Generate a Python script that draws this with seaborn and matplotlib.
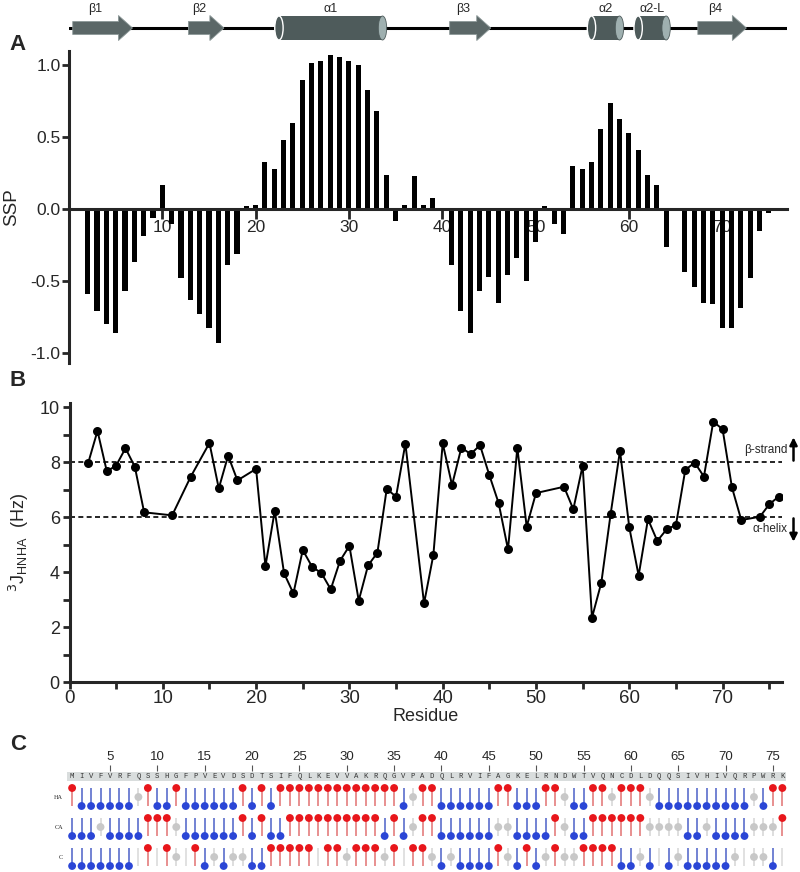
import matplotlib
matplotlib.use("Agg")
import matplotlib.pyplot as plt
from matplotlib.patches import Polygon, Rectangle, Ellipse
import pandas as pd
import seaborn as sns

sns.set_style("ticks")
plt.rcParams['font.family'] = ['Liberation Sans', 'DejaVu Sans']

# ---- data ----
sequence = "MIVFVRFQSSHGFPVEVDSDTSIFQLKEVVAKRQGVPADQLRVIFAGKELRNDWTVQNCDLDQQSIVHIVQRPWRK"

# secondary structure elements (residue ranges)
ss_labels = ["β1", "β2", "α1", "β3", "α2", "α2-L", "β4"]
ss_kinds = ["strand", "strand", "helix", "strand", "helix", "helix", "strand"]
ss_start = [0.4, 12.8, 22.5, 40.8, 56.0, 61.0, 67.4]
ss_end = [6.8, 16.6, 33.6, 45.2, 59.0, 64.0, 72.6]

# panel A: SSP score per residue
ssp_res = list(range(2, 65)) + list(range(66, 77))
ssp_val = [-0.59, -0.71, -0.80, -0.86, -0.57, -0.37, -0.19, -0.06, 0.17,
           -0.10, -0.48, -0.63, -0.73, -0.83, -0.93, -0.39, -0.31, 0.02, 0.03,
           0.33, 0.28, 0.48, 0.60, 0.90, 1.02, 1.03, 1.07, 1.06, 1.03,
           1.00, 0.83, 0.68, 0.24, -0.08, 0.03, 0.23, 0.03, 0.08, 0.00,
           -0.39, -0.71, -0.86, -0.57, -0.47, -0.65, -0.46, -0.34, -0.50, -0.23,
           0.02, -0.10, -0.17, 0.30, 0.28, 0.33, 0.56, 0.74, 0.63, 0.53,
           0.41, 0.24, 0.17, -0.26,
           -0.44, -0.54, -0.65, -0.66, -0.83, -0.83, -0.69, -0.48, -0.15, -0.03, 0.01]

# panel B: 3J(HN-HA) couplings
j_res = [2, 3, 4, 5, 6, 7, 8, 11, 13, 15, 16, 17, 18, 20, 21, 22, 23, 24, 25, 26,
         27, 28, 29, 30, 31, 32, 33, 34, 35, 36, 38, 39, 40, 41, 42, 43, 44, 45, 46,
         47, 48, 49, 50, 53, 54, 55, 56, 57, 58, 59, 60, 61, 62, 63, 64, 65, 66, 67,
         68, 69, 70, 71, 72, 74, 75, 76]
j_val = [7.96, 9.13, 7.66, 7.87, 8.50, 7.83, 6.17, 6.06, 7.47, 8.69, 7.04, 8.23,
         7.33, 7.75, 4.21, 6.23, 3.95, 3.22, 4.80, 4.19, 3.96, 3.37, 4.41, 4.95,
         2.96, 4.24, 4.70, 7.02, 6.74, 8.67, 2.86, 4.62, 8.68, 7.16, 8.52, 8.29,
         8.61, 7.52, 6.50, 4.82, 8.52, 5.65, 6.87, 7.10, 6.28, 7.87, 2.34, 3.61,
         6.11, 8.41, 5.62, 3.87, 5.92, 5.13, 5.55, 5.71, 7.71, 7.98, 7.47, 9.47,
         9.19, 7.08, 5.89, 6.01, 6.46, 6.74]
beta_cut = 8.0
helix_cut = 6.0

# panel C: chemical shift index per nucleus (R = helix, B = strand, G = coil, N = none)
cs_rows = ["HA", "CA", "C"]
cs_ha = "RBBBBBBGRBBRBBBBBBRBRBRRRRRRRRRRRRRBGRRBBBBBBRRBBBRRGBBRRGRRRGBBBBBBBBBBGBRR"
cs_ca = "BBBGBBBBRRRGBBBBBBRBRBBRRRRRRRRRRBRBGRRBBBBBBGGBBBBRGBBRRRRRRGGGGBBGBBBBGGGR"
cs_c = "BBBBBBBNRNRGNRBGBGGBBRRRRRNRRGRRRGRNRRGBGBBBBRGBRBGRGGRRRRBBGBNBGBBBBBGNGGBN"

# ---- layout helpers (pixel boxes on an 800x872 canvas) ----
W, H = 800, 872
PX_RES = 9.33
fig = plt.figure(figsize=(W / 100, H / 100), dpi=100)


def add_px_axes(x0, y0, x1, y1):
    return fig.add_axes([x0 / W, 1 - y1 / H, (x1 - x0) / W, (y1 - y0) / H])


# ---- secondary structure strip ----
ax_ss = add_px_axes(69, 0, 69 + 77 * PX_RES, 50)
ax_ss.set_xlim(0, 77)
ax_ss.set_ylim(50, 0)
ax_ss.axis('off')
ax_ss.plot([0, len(sequence) + 1], [28, 28], color='black', lw=2.2, zorder=1)
for lab, kind, s, e in zip(ss_labels, ss_kinds, ss_start, ss_end):
    if kind == "strand":
        h = 1.5
        pts = [(s, 21.5), (e - h, 21.5), (e - h, 15.5), (e, 28), (e - h, 40.5), (e - h, 34.5), (s, 34.5)]
        ax_ss.add_patch(Polygon(pts, closed=True, facecolor='#5b6767',
                                edgecolor='#8c9898', lw=0.6, zorder=2))
        cx = (s + e - h) / 2
    else:
        ax_ss.add_patch(Rectangle((s, 16), e - s, 24, facecolor='#4e5b5b',
                                  edgecolor='none', zorder=2))
        ax_ss.add_patch(Ellipse((s, 28), 0.9, 24, facecolor='#4e5b5b', zorder=2))
        ax_ss.add_patch(Ellipse((e, 28), 0.9, 24, facecolor='#9fb0b0',
                                edgecolor='#4e5b5b', lw=0.6, zorder=3))
        cx = (s + e) / 2
    ax_ss.text(cx, 9, lab, ha='center', va='center', fontsize=9)

# ---- panel A: SSP ----
ax_a = add_px_axes(69, 51, 69 + 77 * PX_RES, 363)
sns.barplot(x=ssp_res, y=ssp_val, native_scale=True, width=0.55, color='black',
            linewidth=0, errorbar=None, ax=ax_a)
ax_a.set_xlim(0, 77)
ax_a.set_ylim(-1.07, 1.10)
sns.despine(ax=ax_a)
ax_a.spines['bottom'].set_position(('data', 0))
for sp in ['left', 'bottom']:
    ax_a.spines[sp].set_linewidth(2.2)
ax_a.set_axisbelow(True)
ax_a.set_xticks(range(10, 71, 10))
ax_a.set_yticks([-1.0, -0.5, 0.0, 0.5, 1.0])
ax_a.set_yticklabels([f"{v:.1f}" for v in [-1.0, -0.5, 0.0, 0.5, 1.0]])
ax_a.tick_params(axis='x', length=7, width=2, labelsize=12.5, pad=1)
ax_a.tick_params(axis='y', length=5, width=2, labelsize=12.5, pad=1)
ax_a.set_xlabel('')
ax_a.set_ylabel('SSP', fontsize=13.5)
ax_a.yaxis.set_label_coords(-0.068, 0.5)

# ---- panel B: 3J couplings ----
ax_b = add_px_axes(69.5, 682 - 10.15 * 27.5, 69.5 + 76.4 * PX_RES, 682)
ax_b.axhline(beta_cut, ls=(0, (3, 2)), color='black', lw=1.2)
ax_b.axhline(helix_cut, ls=(0, (3, 2)), color='black', lw=1.2)
sns.lineplot(x=j_res, y=j_val, marker='o', markersize=6.5, markeredgewidth=0,
             color='black', lw=1.4, ax=ax_b)
ax_b.set_xlim(0, 76.4)
ax_b.set_ylim(0, 10.15)
sns.despine(ax=ax_b)
for sp in ['left', 'bottom']:
    ax_b.spines[sp].set_linewidth(2.2)
ax_b.set_xticks(range(0, 71, 10))
ax_b.set_xticks(range(5, 76, 10), minor=True)
ax_b.set_yticks(range(0, 11, 2))
ax_b.set_yticks(range(1, 10, 2), minor=True)
ax_b.tick_params(which='both', length=5, width=2)
ax_b.tick_params(axis='x', labelsize=13.5, pad=1)
ax_b.tick_params(axis='y', labelsize=13, pad=2)
ax_b.set_xlabel('Residue', fontsize=13)
ax_b.xaxis.set_label_coords(0.5, -0.092)
ax_b.set_ylabel(r'$^{3}\mathregular{J}_{\mathregular{HNHA}}$  (Hz)', fontsize=13)
ax_b.yaxis.set_label_coords(-0.054, 0.5)
ax_b.text(77.0, 8.45, 'β-strand', ha='right', va='center', fontsize=8.5, clip_on=False)
ax_b.text(77.0, 5.55, 'α-helix', ha='right', va='center', fontsize=8.5, clip_on=False)
ax_b.annotate('', xy=(77.6, 9.0), xytext=(77.6, 7.95), annotation_clip=False,
              arrowprops=dict(arrowstyle='-|>', color='black', lw=1.8, mutation_scale=11))
ax_b.annotate('', xy=(77.6, 5.0), xytext=(77.6, 6.05), annotation_clip=False,
              arrowprops=dict(arrowstyle='-|>', color='black', lw=1.8, mutation_scale=11))

# ---- panel C: chemical shift index ----
ax_c = add_px_axes(62.65 + 9.47 * 0.5, 771, 62.65 + 9.47 * 76.6, 872)
ax_c.set_xlim(0.5, 76.6)
ax_c.set_ylim(2.5, -0.867)
for sp in ax_c.spines.values():
    sp.set_visible(False)
ax_c.set_yticks([])
ax_c.xaxis.tick_top()
ax_c.set_xticks(range(5, 76, 5))
ax_c.tick_params(axis='x', length=4.5, width=0.8, color='#555555', labelsize=9.5, pad=1.5)

ax_c.add_patch(Rectangle((0.45, -0.833), len(sequence) - 0.1, 0.3, facecolor='#d9dddd',
                         edgecolor='none', clip_on=False))
for r, aa in enumerate(sequence, start=1):
    ax_c.text(r, -0.683, aa, ha='center', va='center', family='Liberation Mono',
              fontsize=5.2, color='#333333')

dot_offset = {"R": -0.3, "B": 0.3, "G": 0.0}
dot_colors = {"R": "#e8161b", "B": "#2b46d6", "G": "#c8c8c8"}
stem_colors = {"R": "#e27272", "B": "#4b60c8", "G": "#d4d4d4", "N": "#d8d8d8"}
rows = []
for i, (name, states) in enumerate(zip(cs_rows, [cs_ha, cs_ca, cs_c])):
    ax_c.text(0.05, i, name, ha='right', va='center', fontsize=4.5,
              family='Liberation Serif', clip_on=False)
    for r, st in enumerate(states, start=1):
        ax_c.vlines(r, i - 0.3, i + 0.3, colors=stem_colors[st], lw=1.1, zorder=1)
        if st in dot_offset:
            rows.append({"residue": r, "y": i + dot_offset[st], "state": st})
dots = pd.DataFrame(rows)
sns.scatterplot(data=dots, x="residue", y="y", hue="state", palette=dot_colors,
                s=32, edgecolor='none', legend=False, ax=ax_c, zorder=3)
ax_c.set_xlabel('')
ax_c.set_ylabel('')

# panel letters
for lab, ypx in [("A", 45), ("B", 380), ("C", 745)]:
    fig.text(18 / W, 1 - ypx / H, lab, fontsize=16, fontweight='bold', ha='center', va='center')

fig.savefig("out.png", dpi=100)
